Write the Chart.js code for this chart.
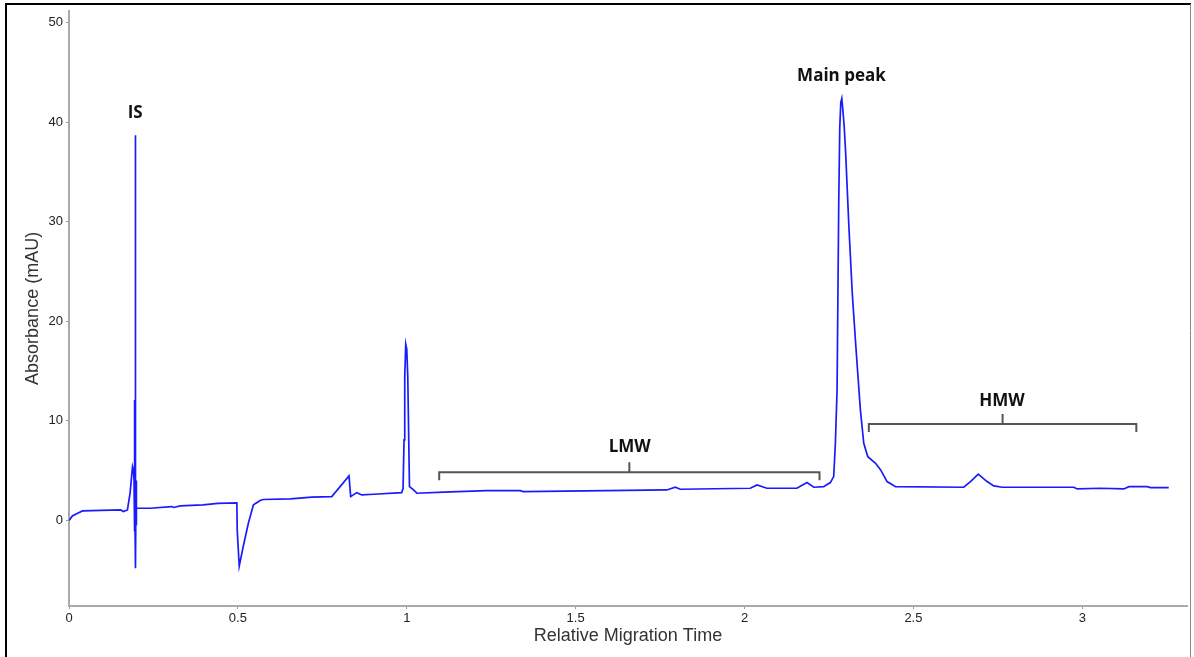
<!DOCTYPE html>
<html>
<head>
<meta charset="utf-8">
<title>Electropherogram</title>
<script src="https://cdn.jsdelivr.net/npm/chart.js@4.4.1/dist/chart.umd.min.js"></script>
<style>
  html, body { margin: 0; padding: 0; background: #fff; }
  #wrap { position: relative; width: 1194px; height: 657px; }
</style>
</head>
<body>
<div id="wrap"><canvas id="grafico"></canvas></div>
<script>
// trace: relative migration time vs absorbance (mAU)
const rmt = [
  0.000, 0.010, 0.027, 0.040, 0.095, 0.153, 0.161, 0.173, 0.181, 0.188, 0.191, 0.1925,
  0.1932, 0.1935, 0.1938, 0.1941, 0.1944, 0.1947, 0.1950, 0.1953, 0.1956, 0.1959,
  0.1962, 0.1965, 0.1968, 0.1975, 0.198, 0.1985, 0.199, 0.1995, 0.200,
  0.240, 0.304, 0.310, 0.329, 0.397, 0.441, 0.497, 0.498, 0.504, 0.516, 0.531, 0.546,
  0.566, 0.575, 0.655, 0.719, 0.778, 0.829, 0.834, 0.852, 0.867, 0.902, 0.985, 0.989,
  0.992, 0.994, 0.997, 1.000, 1.003, 1.008, 1.020, 1.030, 1.109, 1.237, 1.336, 1.345,
  1.770, 1.795, 1.810, 2.017, 2.037, 2.066, 2.155, 2.185, 2.205, 2.234, 2.254, 2.264,
  2.269, 2.274, 2.279, 2.282, 2.285, 2.288, 2.291, 2.295, 2.299, 2.309, 2.319, 2.331,
  2.343, 2.353, 2.365, 2.388, 2.403, 2.422, 2.447, 2.649, 2.669, 2.692, 2.718, 2.738,
  2.763, 2.975, 2.985, 3.054, 3.123, 3.138, 3.192, 3.202, 3.256
];
const mau = [
  0.00, 0.45, 0.75, 0.95, 1.00, 1.05, 0.89, 1.05, 2.80, 5.40, 5.00, 4.10,
  5.40, 12.1, -1.00, 11.5, -1.10, 9.00, -0.80, 5.50, -1.00, 3.00,
  -0.60, 6.00, 2.00, 38.7, -4.80, 4.00, -0.50, 2.00, 1.22,
  1.22, 1.39, 1.30, 1.46, 1.56, 1.72, 1.75, -0.95, -4.60, -2.60, -0.29, 1.56,
  2.00, 2.10, 2.16, 2.33, 2.39, 4.47, 2.39, 2.79, 2.56, 2.63, 2.79, 3.20,
  8.10, 14.4, 17.7, 17.2, 14.4, 3.40, 3.06, 2.73, 2.85, 2.99, 2.99, 2.90,
  3.06, 3.33, 3.13, 3.23, 3.56, 3.23, 3.23, 3.80, 3.33, 3.39, 3.80, 4.40,
  7.75, 13.1, 32.2, 39.5, 42.0, 42.4, 41.3, 39.6, 37.2, 29.5, 22.8, 16.8,
  11.1, 7.75, 6.40, 5.74, 5.07, 3.90, 3.39, 3.33, 3.90, 4.64, 3.90, 3.46,
  3.33, 3.33, 3.16, 3.23, 3.16, 3.39, 3.39, 3.30, 3.30
];

const xTicks = [0, 0.5, 1, 1.5, 2, 2.5, 3];
const yTicks = [0, 10, 20, 30, 40, 50];

// peak labels
const labelText = ['IS', 'Main peak', 'LMW', 'HMW'];
const labelX = [0.196, 2.287, 1.66, 2.762];
const labelY = [40.9, 44.6, 7.4, 12.0];

// LMW / HMW region brackets
const bracketFrom = [1.096, 2.368];
const bracketTo = [2.222, 3.160];
const bracketAt = [4.84, 9.69];

const anotacoes = {
  id: 'anotacoes',
  afterDatasetsDraw(chart) {
    const {ctx, scales: {x, y}} = chart;
    ctx.save();
    ctx.strokeStyle = '#555';
    ctx.lineWidth = 2;
    bracketFrom.forEach((a, i) => {
      const x0 = x.getPixelForValue(a), x1 = x.getPixelForValue(bracketTo[i]);
      const yy = y.getPixelForValue(bracketAt[i]);
      const xm = (x0 + x1) / 2;
      ctx.beginPath();
      ctx.moveTo(x0, yy + 8); ctx.lineTo(x0, yy); ctx.lineTo(x1, yy); ctx.lineTo(x1, yy + 8);
      ctx.moveTo(xm, yy); ctx.lineTo(xm, yy - 10);
      ctx.stroke();
    });
    ctx.fillStyle = '#111';
    ctx.font = 'bold 17px "Open Sans", sans-serif';
    ctx.textAlign = 'center';
    ctx.textBaseline = 'middle';
    labelText.forEach((t, i) => ctx.fillText(t, x.getPixelForValue(labelX[i]), y.getPixelForValue(labelY[i])));
    ctx.restore();
  },
  afterDraw(chart) {
    const ctx = chart.ctx;
    ctx.save();
    ctx.strokeStyle = '#000';
    ctx.lineWidth = 2;
    ctx.beginPath();
    ctx.moveTo(6, 657); ctx.lineTo(6, 4); ctx.lineTo(1191, 4);
    ctx.stroke();
    ctx.strokeStyle = '#888';
    ctx.lineWidth = 1;
    ctx.beginPath();
    ctx.moveTo(1190.5, 4); ctx.lineTo(1190.5, 657);
    ctx.stroke();
    ctx.restore();
  }
};

const canvas = document.getElementById('grafico');
new Chart(canvas.getContext('2d'), {
  type: 'scatter',
  data: {
    datasets: [{
      data: rmt.map((t, i) => ({x: t, y: mau[i]})),
      showLine: true,
      borderColor: '#1a1aff',
      borderWidth: 1.7,
      pointRadius: 0,
      tension: 0
    }]
  },
  options: {
    responsive: true,
    maintainAspectRatio: false,
    animation: false,
    layout: {padding: {top: 10, right: 7, left: 0, bottom: 0}},
    plugins: {legend: {display: false}, tooltip: {enabled: false}},
    scales: {
      x: {
        type: 'linear', min: 0, max: 3.31,
        afterBuildTicks: s => { s.ticks = xTicks.map(v => ({value: v})); },
        afterFit: s => { s.height = 51; },
        border: {color: '#aaa', width: 2},
        grid: {drawOnChartArea: false, drawTicks: true, tickLength: 3, color: '#999'},
        ticks: {color: '#222', font: {family: '"Liberation Sans", Arial', size: 13}, padding: 2, maxRotation: 0, callback: v => String(v)},
        title: {display: true, text: 'Relative Migration Time', color: '#333', font: {family: '"Liberation Sans", Arial', size: 18}, padding: {top: 0, bottom: 10}}
      },
      y: {
        type: 'linear', min: -8.6, max: 51.2,
        afterBuildTicks: s => { s.ticks = yTicks.map(v => ({value: v})); },
        afterFit: s => { s.width = 69; },
        border: {color: '#aaa', width: 2},
        grid: {drawOnChartArea: false, drawTicks: true, tickLength: 3, color: '#999'},
        ticks: {color: '#222', font: {family: '"Liberation Sans", Arial', size: 13}, padding: 3, callback: v => String(v)},
        title: {display: true, text: 'Absorbance (mAU)', color: '#333', font: {family: '"Liberation Sans", Arial', size: 18}, padding: {top: 22, bottom: 0}}
      }
    }
  },
  plugins: [anotacoes]
});
</script>
</body>
</html>
